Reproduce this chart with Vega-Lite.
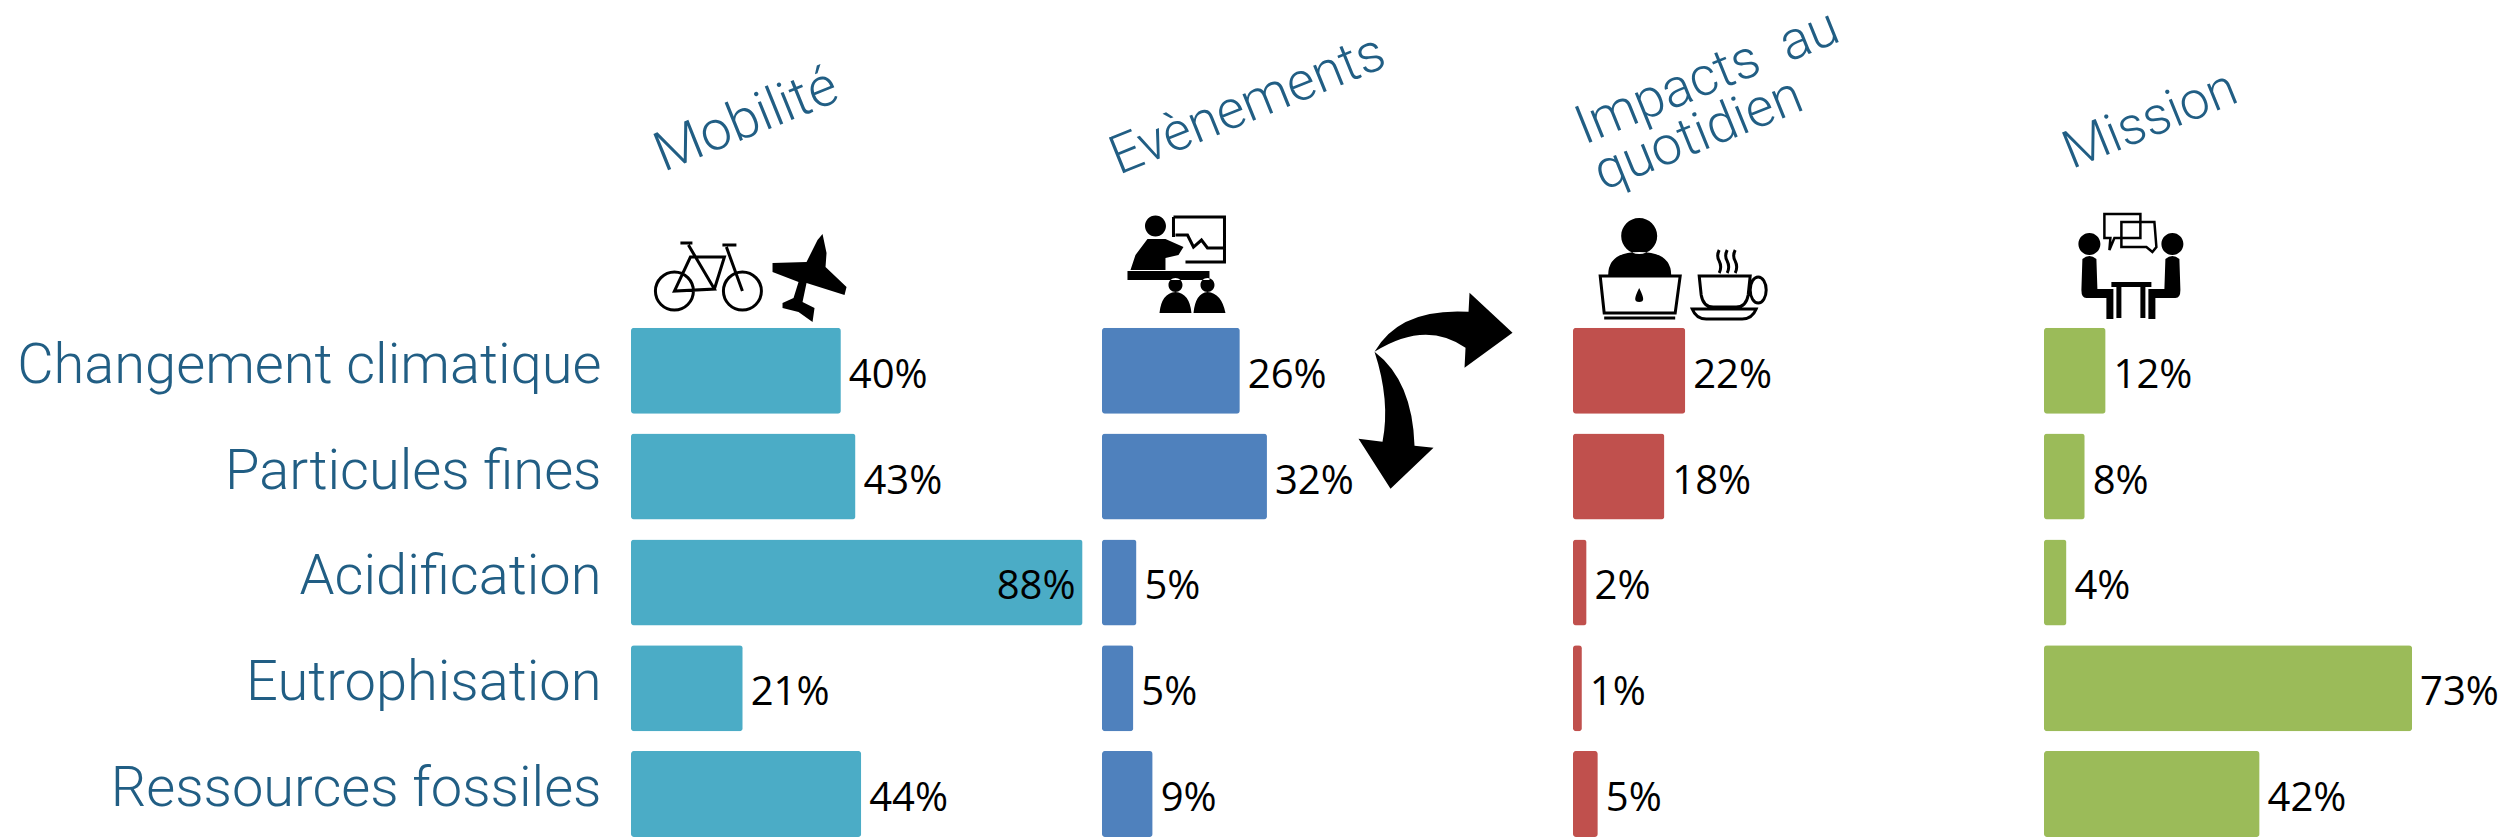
{"$schema":"https://vega.github.io/schema/vega-lite/v6.json","background":"white","padding":{"left":16,"top":0,"right":0,"bottom":0},"bounds":"flush","spacing":11,"datasets":{"barres":[
{"theme":"Mobilité","category":"Changement climatique","value":40.2,"label":"40%"},
{"theme":"Mobilité","category":"Particules fines","value":43.0,"label":"43%"},
{"theme":"Mobilité","category":"Acidification","value":86.5,"label":"88%"},
{"theme":"Mobilité","category":"Eutrophisation","value":21.4,"label":"21%"},
{"theme":"Mobilité","category":"Ressources fossiles","value":44.1,"label":"44%"},
{"theme":"Evènements","category":"Changement climatique","value":26.4,"label":"26%"},
{"theme":"Evènements","category":"Particules fines","value":31.6,"label":"32%"},
{"theme":"Evènements","category":"Acidification","value":6.6,"label":"5%"},
{"theme":"Evènements","category":"Eutrophisation","value":6.0,"label":"5%"},
{"theme":"Evènements","category":"Ressources fossiles","value":9.7,"label":"9%"},
{"theme":"Impacts","category":"Changement climatique","value":21.5,"label":"22%"},
{"theme":"Impacts","category":"Particules fines","value":17.5,"label":"18%"},
{"theme":"Impacts","category":"Acidification","value":2.6,"label":"2%"},
{"theme":"Impacts","category":"Eutrophisation","value":1.7,"label":"1%"},
{"theme":"Impacts","category":"Ressources fossiles","value":4.75,"label":"5%"},
{"theme":"Mission","category":"Changement climatique","value":11.8,"label":"12%"},
{"theme":"Mission","category":"Particules fines","value":7.8,"label":"8%"},
{"theme":"Mission","category":"Acidification","value":4.3,"label":"4%"},
{"theme":"Mission","category":"Eutrophisation","value":70.5,"label":"73%"},
{"theme":"Mission","category":"Ressources fossiles","value":41.3,"label":"42%"}
],"icones":[
{"theme":"Mobilité","category":" ","value":14.83,"icon":"velo"},
{"theme":"Mobilité","category":" ","value":34.2,"icon":"avion"},
{"theme":"Evènements","category":" ","value":14.46,"icon":"presentation"},
{"theme":"Evènements","category":"Changement climatique","value":64.85,"icon":"fleches"},
{"theme":"Impacts","category":" ","value":21.3,"icon":"travail"},
{"theme":"Mission","category":" ","value":16.55,"icon":"reunion"}
]},
"hconcat":[
{"width":460,"height":615,"title":{"text":"Mobilité","angle":-22,"anchor":"start","align":"left","baseline":"alphabetic","frame":"group","font":"Roboto","fontWeight":300,"fontSize":55,"color":"#215E84","offset":-86,"dx":35},
"view":{"stroke":null},
"encoding":{"y":{"field":"category","type":"nominal","sort":null,"scale":{"domain":[" ","Changement climatique","Particules fines","Acidification","Eutrophisation","Ressources fossiles"],"paddingInner":0.187,"paddingOuter":0},"axis":{"title":null,"domain":false,"ticks":false,"labelFont":"Roboto","labelFontWeight":300,"labelFontSize":56,"labelColor":"#215E84","labelPadding":30,"labelLimit":1000,"labelOffset":-5}},"x":{"field":"value","type":"quantitative","scale":{"domain":[0,88.12]},"axis":null}},
"layer":[
{"data":{"name":"barres"},"transform":[{"filter":"datum.theme==='Mobilité'"}],"mark":{"type":"bar","color":"#4BACC6","cornerRadius":3},"encoding":{}},
{"data":{"name":"barres"},"transform":[{"filter":"datum.theme==='Mobilité' && datum.value<80"}],"mark":{"type":"text","font":"Open Sans","fontSize":40,"color":"black","align":"left","dx":8,"dy":5},"encoding":{"text":{"field":"label"}}},
{"data":{"name":"barres"},"transform":[{"filter":"datum.theme==='Mobilité' && datum.value>=80"}],"mark":{"type":"text","font":"Open Sans","fontSize":40,"color":"black","align":"right","dx":-7,"dy":5},"encoding":{"text":{"field":"label"}}},
{"data":{"name":"icones"},"transform":[{"filter":"datum.icon==='avion'"}],"mark":{"type":"point","filled":true,"size":4,"color":"black","opacity":1,"strokeWidth":0},"encoding":{"shape":{"field":"icon","type":"nominal","legend":null,"scale":{"domain":["avion"],"range":["M13,-31 L17,-12 L16,2 L37,22 L35,30 L-3,18 L-7,37 L5,43 L3,57 L-11,47 L-27,43 L-27,38 L-16,33 L-11,17 L-37,7 L-37,-2 L-3,-3 L8,-25 Z"]}}}},
{"data":{"name":"icones"},"transform":[{"filter":"datum.icon==='velo'"}],"mark":{"type":"point","filled":false,"size":4,"color":"black","opacity":1,"strokeWidth":3},"encoding":{"shape":{"field":"icon","type":"nominal","legend":null,"scale":{"domain":["velo"],"range":["M-53,26 a19,19 0 1,0 38,0 a19,19 0 1,0 -38,0 M15,26 a19,19 0 1,0 38,0 a19,19 0 1,0 -38,0 M-20,-20 L6,24 L-34,26 L-18,-8 L16,-8 L6,24 M18,-18 L34,26 M-28,-22 L-16,-22 M14,-20 L28,-20"]}}}}
],"resolve":{"scale":{"shape":"independent"}}},
{"width":460,"height":615,"title":{"text":"Evènements","angle":-22,"anchor":"start","align":"left","baseline":"alphabetic","frame":"group","font":"Roboto","fontWeight":300,"fontSize":54,"color":"#215E84","offset":-130,"dx":18},
"view":{"stroke":null},
"encoding":{"y":{"field":"category","type":"nominal","sort":null,"scale":{"domain":[" ","Changement climatique","Particules fines","Acidification","Eutrophisation","Ressources fossiles"],"paddingInner":0.187,"paddingOuter":0},"axis":null},"x":{"field":"value","type":"quantitative","scale":{"domain":[0,88.12]},"axis":null}},
"layer":[
{"data":{"name":"barres"},"transform":[{"filter":"datum.theme==='Evènements'"}],"mark":{"type":"bar","color":"#4F81BD","cornerRadius":3},"encoding":{}},
{"data":{"name":"barres"},"transform":[{"filter":"datum.theme==='Evènements'"}],"mark":{"type":"text","font":"Open Sans","fontSize":40,"color":"black","align":"left","dx":8,"dy":5},"encoding":{"text":{"field":"label"}}},
{"data":{"name":"icones"},"transform":[{"filter":"datum.icon==='presentation'"}],"mark":{"type":"point","filled":true,"size":4,"color":"black","opacity":1,"strokeWidth":0},"encoding":{"shape":{"field":"icon","type":"nominal","legend":null,"scale":{"domain":["presentation"],"range":["M-32.5,-39 a10.5,10.5 0 1,0 21,0 a10.5,10.5 0 1,0 -21,0 Z M-30,-26 L-12,-26 L6,-18 L1,-10 L-12,-7 L-12,5 L-47,5 L-42,-10 Z M-50,6 L32,6 L32,15 L-50,15 Z M-9,20 a7,7 0 1,0 14,0 a7,7 0 1,0 -14,0 Z M23,20 a7,7 0 1,0 14,0 a7,7 0 1,0 -14,0 Z M-18,48 Q-16,28 -2,27 Q12,28 14,48 Z M16,48 Q18,28 30,27 Q44,28 48,48 Z"]}}}},
{"data":{"name":"icones"},"transform":[{"filter":"datum.icon==='presentation'"}],"mark":{"type":"point","filled":false,"size":4,"color":"black","opacity":1,"strokeWidth":3},"encoding":{"shape":{"field":"icon","type":"nominal","legend":null,"scale":{"domain":["presentation"],"range":["M-4,-48 L47,-48 L47,-3 L8,-3 M-4,-48 L-4,-28 M-2,-30 L10,-30 L16,-18 L24,-25 L30,-17 L46,-17"]}}}},
{"data":{"name":"icones"},"transform":[{"filter":"datum.icon==='fleches'"}],"mark":{"type":"point","filled":true,"size":4,"color":"black","opacity":1,"strokeWidth":0},"encoding":{"shape":{"field":"icon","type":"nominal","legend":null,"scale":{"domain":["fleches"],"range":["M-66,-19 Q-41,-63 28,-59 L29,-78 L72,-38 L24,-3 L25,-23 Q-15,-51 -66,-19 Z M-66,-19 Q-28,10 -26,75 L-7,77 L-50,118 L-82,68 L-58,71 Q-50,30 -66,-19 Z"]}}}}
],"resolve":{"scale":{"shape":"independent"}}},
{"width":460,"height":615,"title":{"text":["Impacts\u00a0\u00a0au","quotidien"],"angle":-22,"anchor":"start","align":"left","baseline":"alphabetic","frame":"group","font":"Roboto","fontWeight":300,"fontSize":54,"color":"#215E84","lineHeight":50,"offset":-132,"dx":12},
"view":{"stroke":null},
"encoding":{"y":{"field":"category","type":"nominal","sort":null,"scale":{"domain":[" ","Changement climatique","Particules fines","Acidification","Eutrophisation","Ressources fossiles"],"paddingInner":0.187,"paddingOuter":0},"axis":null},"x":{"field":"value","type":"quantitative","scale":{"domain":[0,88.12]},"axis":null}},
"layer":[
{"data":{"name":"barres"},"transform":[{"filter":"datum.theme==='Impacts'"}],"mark":{"type":"bar","color":"#C0504D","cornerRadius":3},"encoding":{}},
{"data":{"name":"barres"},"transform":[{"filter":"datum.theme==='Impacts'"}],"mark":{"type":"text","font":"Open Sans","fontSize":40,"color":"black","align":"left","dx":8,"dy":5},"encoding":{"text":{"field":"label"}}},
{"data":{"name":"icones"},"transform":[{"filter":"datum.icon==='travail'"}],"mark":{"type":"point","filled":true,"size":4,"color":"black","opacity":1,"strokeWidth":0},"encoding":{"shape":{"field":"icon","type":"nominal","legend":null,"scale":{"domain":["travail"],"range":["M-63,-29 a18,18 0 1,0 36,0 a18,18 0 1,0 -36,0 Z M-76,10 Q-76,-13 -45,-13 Q-13,-13 -13,10 Z M-45,23 Q-41,31 -41,34 Q-41,37 -45,37 Q-49,37 -49,34 Q-49,31 -45,23 Z"]}}}},
{"data":{"name":"icones"},"transform":[{"filter":"datum.icon==='travail'"}],"mark":{"type":"point","filled":false,"size":4,"color":"black","opacity":1,"strokeWidth":3},"encoding":{"shape":{"field":"icon","type":"nominal","legend":null,"scale":{"domain":["travail"],"range":["M-84,11 L-4,11 L-9,48 L-80,48 Z M-80,53 L-9,53 M15,11 L66,11 L64,30 Q62,42 52,42 L29,42 Q19,42 17,30 Z M66,25 a8,13 0 1,0 16,0 a8,13 0 1,0 -16,0 M8,44 L72,44 Q68,54 58,54 L22,54 Q12,54 8,44 Z M35,-15 q-3,6 0,11 q3,6 0,12 M43,-15 q-3,6 0,11 q3,6 0,12 M51,-15 q-3,6 0,11 q3,6 0,12"]}}}}
],"resolve":{"scale":{"shape":"independent"}}},
{"width":460,"height":615,"title":{"text":"Mission","angle":-22,"anchor":"start","align":"left","baseline":"alphabetic","frame":"group","font":"Roboto","fontWeight":300,"fontSize":53,"color":"#215E84","offset":-89,"dx":30},
"view":{"stroke":null},
"encoding":{"y":{"field":"category","type":"nominal","sort":null,"scale":{"domain":[" ","Changement climatique","Particules fines","Acidification","Eutrophisation","Ressources fossiles"],"paddingInner":0.187,"paddingOuter":0},"axis":null},"x":{"field":"value","type":"quantitative","scale":{"domain":[0,88.12]},"axis":null}},
"layer":[
{"data":{"name":"barres"},"transform":[{"filter":"datum.theme==='Mission'"}],"mark":{"type":"bar","color":"#9BBB59","cornerRadius":3},"encoding":{}},
{"data":{"name":"barres"},"transform":[{"filter":"datum.theme==='Mission'"}],"mark":{"type":"text","font":"Open Sans","fontSize":40,"color":"black","align":"left","dx":8,"dy":5},"encoding":{"text":{"field":"label"}}},
{"data":{"name":"icones"},"transform":[{"filter":"datum.icon==='reunion'"}],"mark":{"type":"point","filled":true,"size":4,"color":"black","opacity":1,"strokeWidth":0},"encoding":{"shape":{"field":"icon","type":"nominal","legend":null,"scale":{"domain":["reunion"],"range":["M-52,-21 a11,11 0 1,0 22,0 a11,11 0 1,0 -22,0 Z M31,-21 a11,11 0 1,0 22,0 a11,11 0 1,0 -22,0 Z M-48,-6 Q-41,-12 -34,-6 L-33,24 L-17,24 L-17,54 L-24,54 L-24,33 L-44,33 Q-49,33 -49,25 Z M49,-6 Q42,-12 35,-6 L34,24 L18,24 L18,54 L25,54 L25,33 L45,33 Q50,33 50,25 Z M-19,17 L21,17 L21,22 L-19,22 Z M-14,22 L-9,22 L-9,53 L-14,53 Z M10,22 L15,22 L15,53 L10,53 Z"]}}}},
{"data":{"name":"icones"},"transform":[{"filter":"datum.icon==='reunion'"}],"mark":{"type":"point","filled":false,"size":4,"color":"black","opacity":1,"strokeWidth":2.5},"encoding":{"shape":{"field":"icon","type":"nominal","legend":null,"scale":{"domain":["reunion"],"range":["M-26,-51 L10,-51 L10,-27 L-16,-27 L-21,-15 L-20,-27 L-26,-27 Z M-9,-43 L24,-43 L26,-18 L22,-13 L16,-18 L-9,-18 Z"]}}}}
],"resolve":{"scale":{"shape":"independent"}}}
]}
